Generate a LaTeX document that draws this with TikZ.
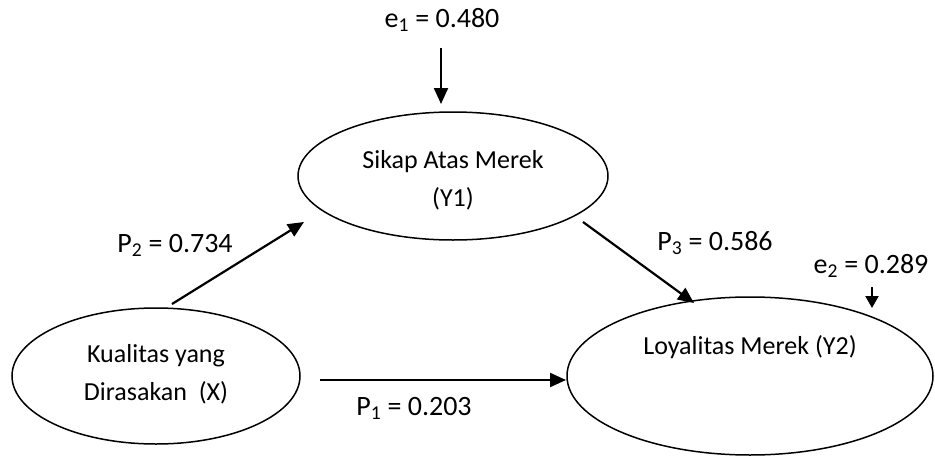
\documentclass[tikz,border=0pt]{standalone}
\usepackage{fontspec}
\setmainfont{Carlito}
\usetikzlibrary{arrows.meta,shapes.geometric}
\begin{document}
\begin{tikzpicture}[x=1pt,y=-1pt,
  latent/.style={draw,line width=1.5pt,ellipse,inner sep=0pt},
  lbl/.style={font=\fontsize{28}{34}\selectfont,inner sep=0pt},
  etxt/.style={font=\fontsize{26}{38}\selectfont,align=center,inner sep=0pt},
  path/.style={line width=2.2pt,-{Triangle[width=14pt,length=16pt]}},
  errpath/.style={line width=2.2pt,-{Triangle[width=13pt,length=12pt]}}]
\useasboundingbox (0,0) rectangle (935,458);
% latent variables
\node[latent,minimum width=310pt,minimum height=128pt] (Y1) at (453,176) {};
\node[etxt] (Y1t) at (453,180) {Sikap Atas Merek\\(Y1)};
\node[latent,minimum width=288pt,minimum height=136pt] (X) at (156,376) {};
\node[etxt] (Xt) at (156,374) {Kualitas yang\\Dirasakan\ \ (X)};
\node[latent,minimum width=366pt,minimum height=158pt] (Y2) at (750,376) {};
\node[etxt] (Y2t) at (750,347) {Loyalitas Merek (Y2)};
% labels
\node[lbl] (e1) at (442,20) {e\textsubscript{1} = 0.480};
\node[lbl] (p2) at (175,245) {P\textsubscript{2} = 0.734};
\node[lbl] (p3) at (715,243) {P\textsubscript{3} = 0.586};
\node[lbl] (e2) at (871,266) {e\textsubscript{2} = 0.289};
\node[lbl] (p1) at (414,408) {P\textsubscript{1} = 0.203};
% arrow end points
\coordinate (e1s) at (441,48);
\coordinate (e1e) at (441,104);
\coordinate (e2s) at (872,287);
\coordinate (e2e) at (872,308);
\coordinate (p2s) at (172,304);
\coordinate (p2e) at (304,222);
\coordinate (p3s) at (583,222);
\coordinate (p3e) at (694,303);
\coordinate (p1s) at (320,380);
\coordinate (p1e) at (566,380);
% connectors
\draw[path] (e1s) -- (e1e);
\draw[errpath] (e2s) -- (e2e);
\draw[path] (p2s) -- (p2e);
\draw[path] (p3s) -- (p3e);
\draw[path] (p1s) -- (p1e);
\end{tikzpicture}
\end{document}
